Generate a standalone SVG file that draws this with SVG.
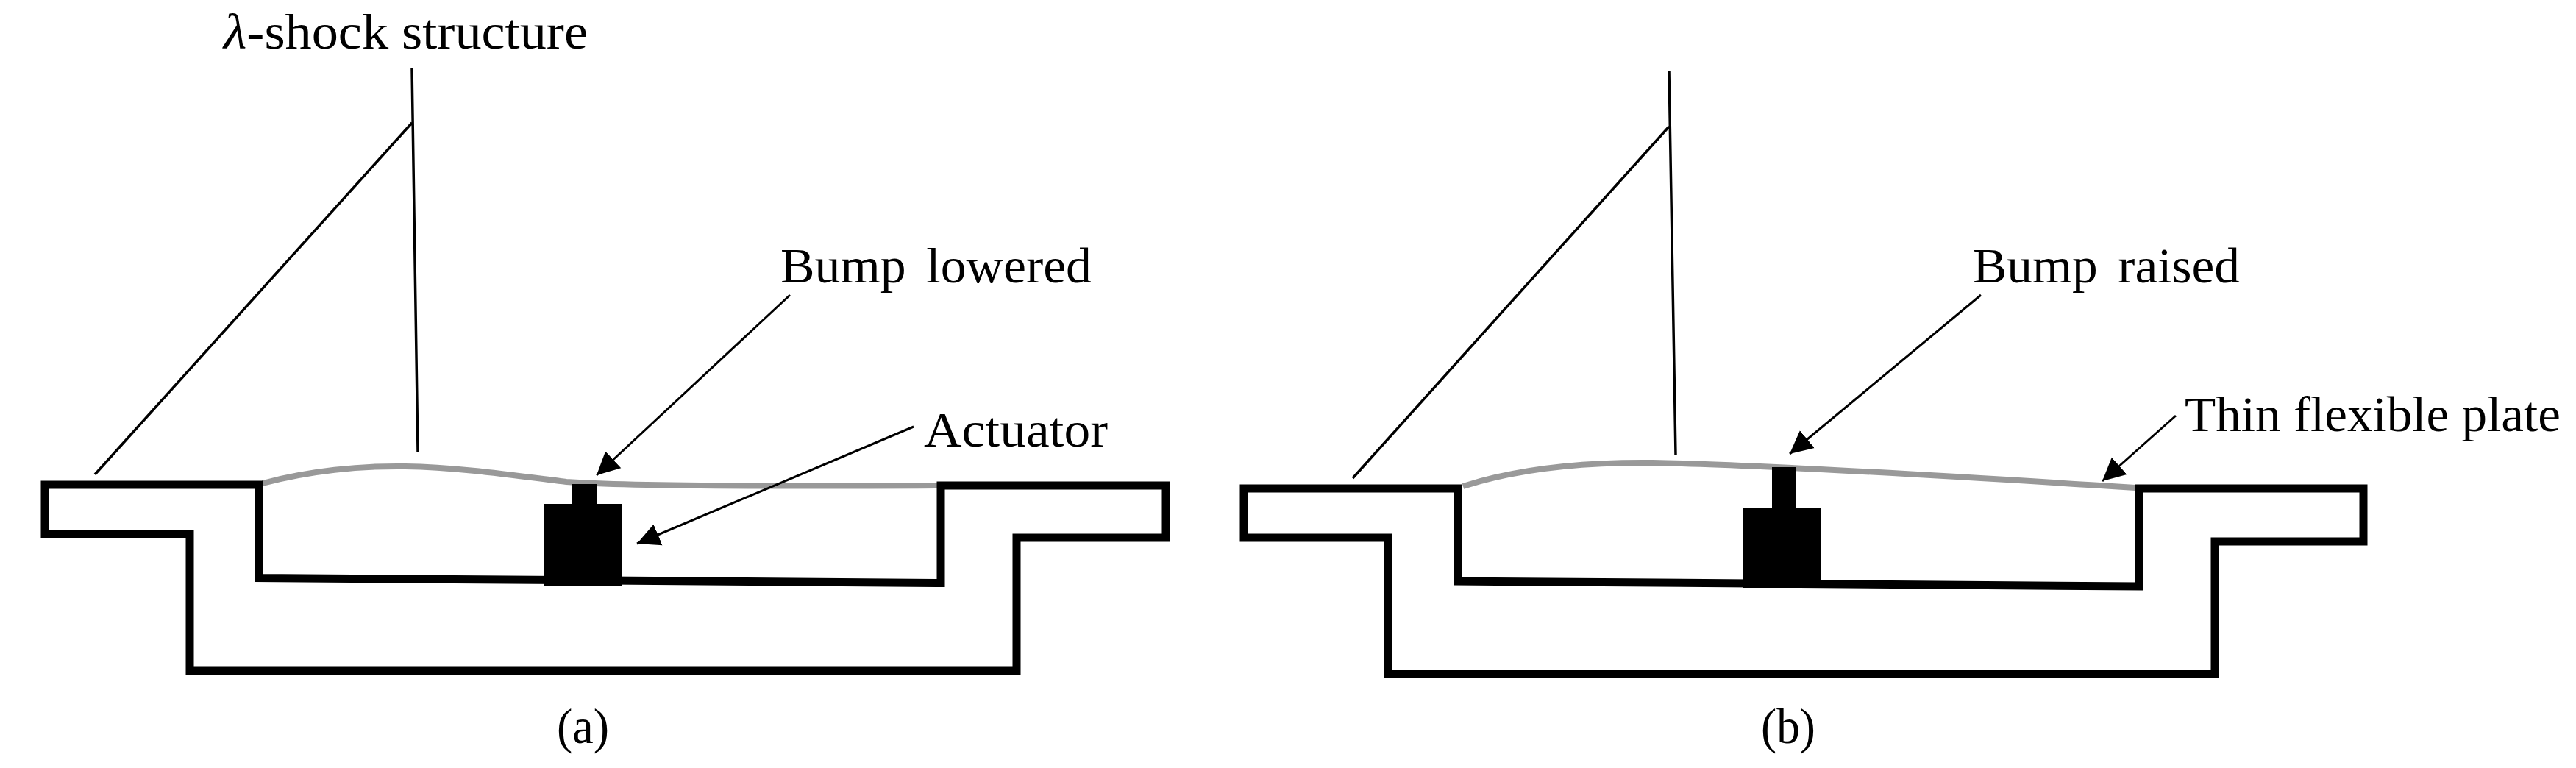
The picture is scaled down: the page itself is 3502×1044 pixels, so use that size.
<svg xmlns="http://www.w3.org/2000/svg" width="3502" height="1044" viewBox="0 0 3502 1044">
<style>
.t{font-family:"Liberation Serif","DejaVu Serif",serif;font-size:67px;fill:#000;}
.w{word-spacing:10px;}
.body{fill:none;stroke:#000;stroke-width:11;stroke-linejoin:miter;}
.plate{fill:none;stroke:#999;stroke-width:8;}
.shock{fill:none;stroke:#000;stroke-width:3.5;}
.lead{fill:none;stroke:#000;stroke-width:3;marker-end:url(#arrow);}
</style>
<defs>
<marker id="arrow" markerUnits="userSpaceOnUse" markerWidth="34" markerHeight="34" refX="31" refY="16" orient="auto">
<path d="M0 0.5L31 16L0 31.5Z" fill="#000"/>
</marker>
</defs>
<rect width="3502" height="1044" fill="#fff"/>
<g id="panel-a">
<path class="plate" d="M357 657C420 640 490 633 551 634C620 635 690 645 770 655C850 661 1100 661 1274 660"/>
<path class="body" d="M1279 660H1585V731H1382V912H258V726H61V659H351.500V785.500L1279 792.500Z"/>
<path id="actuator-a" d="M778 658H812V685H846V797H740V685H778Z" fill="#000"/>
<text class="t" x="304" y="66" textLength="495" lengthAdjust="spacingAndGlyphs"><tspan font-style="italic">λ</tspan>-shock structure</text>
<text class="t w" x="1061" y="384" textLength="423" lengthAdjust="spacingAndGlyphs">Bump lowered</text>
<text class="t" x="1256" y="607" textLength="250" lengthAdjust="spacingAndGlyphs">Actuator</text>
<text class="t" x="757" y="1010" textLength="71" lengthAdjust="spacingAndGlyphs">(a)</text>
</g>
<g id="panel-b">
<path class="plate" d="M1989 661C2060 638 2150 628 2247 629C2400 632 2700 650 2903 663"/>
<path class="body" d="M2908 664H3213V736H3011V916.500H1887V731H1691V664H1982V790L2908 797Z"/>
<path id="actuator-b" d="M2409 635H2442V690H2475V799H2370V690H2409Z" fill="#000"/>
<text class="t w" x="2682" y="384" textLength="363" lengthAdjust="spacingAndGlyphs">Bump raised</text>
<text class="t" x="2970" y="586" textLength="511" lengthAdjust="spacingAndGlyphs">Thin flexible plate</text>
<text class="t" x="2394" y="1010" textLength="74" lengthAdjust="spacingAndGlyphs">(b)</text>
</g>
<g id="connectors">
<path class="shock" d="M560 92L568 614M560 167L129 645"/>
<path class="shock" d="M2269 96L2278 618M2269 172L1839 650"/>
<path class="lead" d="M1074 401L811 646"/>
<path class="lead" d="M1242 580L866 739"/>
<path class="lead" d="M2693 401L2433 617"/>
<path class="lead" d="M2958 565L2858 654"/>
</g>
</svg>
